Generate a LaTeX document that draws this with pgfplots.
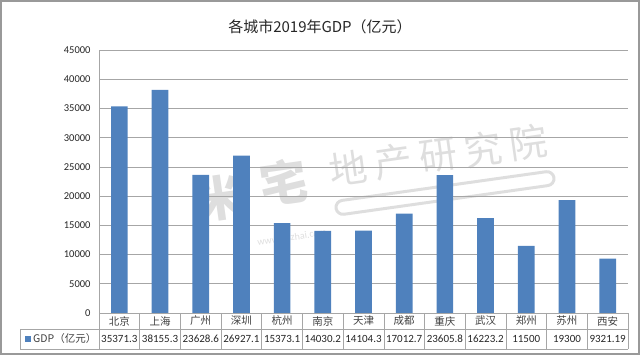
\documentclass[border=0pt]{standalone}
\usepackage{pgfplots}
\pgfplotsset{compat=1.18}
\usepackage{fontspec}
\setmainfont{Carlito}
\newfontfamily\cjk{Noto Sans CJK SC}
\definecolor{barblue}{HTML}{4F81BD}
\definecolor{gridgray}{HTML}{A6A6A6}
\definecolor{txt}{HTML}{404040}
\pgfplotstableread{
x y
0 35371.3
1 38155.3
2 23628.6
3 26927.1
4 15373.1
5 14030.2
6 14104.3
7 17012.7
8 23605.8
9 16223.2
10 11500
11 19300
12 9321.19
}\gdp
\begin{document}
\begin{tikzpicture}[x=1pt,y=1pt]
\path (0,0) rectangle (640,355);
\draw[gray!80, line width=2pt] (1,1) rectangle (639,354);
% watermark (drawn beneath)
\begin{scope}[opacity=0.13]
\node[rotate=8, inner sep=0pt, font=\cjk\bfseries\fontsize{48}{50}\selectfont, text=black] at (220,157) {米};
\node[rotate=8, inner sep=0pt, font=\cjk\bfseries\fontsize{48}{50}\selectfont, text=black] at (284,173) {宅};
\foreach [count=\k from 0] \c in {地,产,研,究,院}{
  \node[rotate=8, inner sep=0pt, font=\cjk\fontsize{38}{40}\selectfont, text=black] at ({348+\k*45},{187+\k*6.3}) {\c};
}
\draw[rotate around={8:(445,162)}, line width=3pt, rounded corners=7pt, black] (335,155) rectangle (555,169);
\node[rotate=8, inner sep=0pt, font=\fontsize{10}{11}\selectfont, text=black] at (292,118) {www.mizhai.com};
\end{scope}
\node[font=\cjk\fontsize{15}{18}\selectfont, text=black!85] at (320,328) {各城市2019年GDP（亿元）};
\begin{axis}[at={(99pt,42pt)}, anchor=south west, scale only axis,
  width=529pt, height=263pt,
  ymin=0, ymax=45000, ytick={0,5000,...,45000},
  scaled y ticks=false,
  xmin=-0.5, xmax=12.5, xtick=\empty,
  axis lines*=left, axis line style={gridgray},
  ymajorgrids, grid style={gridgray, line width=0.6pt},
  major tick length=0pt,
  yticklabel style={font=\fontsize{10.5}{12}\selectfont, text=black!85, xshift=-5pt},
  /pgf/number format/.cd, 1000 sep={}, fixed, assume math mode=true,
  ]
\addplot[ybar, bar width=0.41, fill=barblue, draw=none] table[x=x,y=y]{\gdp};
\end{axis}
% table grid
\pgfmathsetmacro{\st}{529/13}
\foreach \i in {0,...,13}{
  \draw[gridgray, line width=0.6pt] ({99+\i*\st},42) -- ({99+\i*\st},6);
}
\draw[gridgray, line width=0.6pt] (20,26) -- (628,26);
\draw[gridgray, line width=0.6pt] (20,6) -- (628,6);
\draw[gridgray, line width=0.6pt] (20,26) -- (20,6);
\foreach [count=\k from 0] \c in {北京,上海,广州,深圳,杭州,南京,天津,成都,重庆,武汉,郑州,苏州,西安}{
  \node[font=\cjk\fontsize{10.5}{12}\selectfont, text=txt] at ({99+(\k+0.5)*\st},34) {\c};
}
\foreach [count=\k from 0] \v in {35371.3,38155.3,23628.6,26927.1,15373.1,14030.2,14104.3,17012.7,23605.8,16223.2,11500,19300,9321.19}{
  \node[font=\fontsize{11}{12}\selectfont, text=black!85] at ({99+(\k+0.5)*\st},16) {\v};
}
\fill[barblue] (25,13) rectangle (31,19);
\node[anchor=west, font=\cjk\fontsize{10.5}{12}\selectfont, text=txt, inner sep=0pt] at (33,16) {GDP（亿元）};
\end{tikzpicture}
\end{document}
